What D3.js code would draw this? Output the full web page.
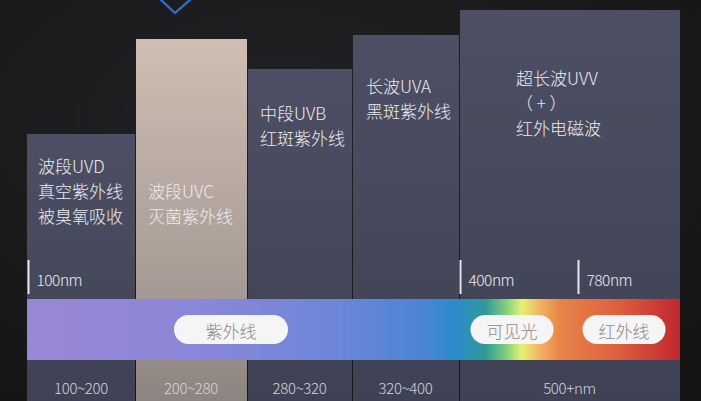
<!DOCTYPE html>
<html><head><meta charset="utf-8">
<script src="https://cdn.jsdelivr.net/npm/d3@7/dist/d3.min.js"></script>
<style>
html,body{margin:0;padding:0;background:#1b1b1d;overflow:hidden}
svg{display:block}
text{font-family:"Noto Sans CJK SC","Noto Sans",sans-serif;font-weight:300}
</style></head>
<body>
<script>
// ---- data ----
const categories = ["100~200", "200~280", "280~320", "320~400", "500+nm"];
const spans = [108, 112, 105, 107, 221];    // relative width of each band
const heights = [267, 362, 332, 366, 391];  // relative bar heights
const bandLabels = [
  ["波段UVD", "真空紫外线", "被臭氧吸收"],
  ["波段UVC", "灭菌紫外线"],
  ["中段UVB", "红斑紫外线"],
  ["长波UVA", "黑斑紫外线"],
  ["超长波UVV", "（ + ）", "红外电磁波"]
];
const markerLabels = ["100nm", "400nm", "780nm"];
const markerAt = [0, 432, 550];              // in band units
const pillLabels = ["紫外线", "可见光", "红外线"];
const pillAt = [204, 485, 597];              // centre, in band units

// ---- layout ----
const W = 701, H = 401;
const svg = d3.select("body").append("svg").attr("width", W).attr("height", H);
const defs = svg.append("defs");

const cum = [0]; spans.forEach((s, i) => cum.push(cum[i] + s));
const total = d3.sum(spans);
const x = d3.scaleLinear().domain([0, total]).range([27, 680]);
const y = d3.scaleLinear().domain([0, 391]).range([401, 10]);

// background
const bg = defs.append("radialGradient").attr("id", "bg").attr("cx", "40%").attr("cy", "30%").attr("r", "80%");
bg.append("stop").attr("offset", "0%").attr("stop-color", "#222224");
bg.append("stop").attr("offset", "100%").attr("stop-color", "#151516");
svg.append("rect").attr("width", W).attr("height", H).attr("fill", "url(#bg)");

// chevron
svg.append("path").attr("d", d3.line()([[160, -1], [175, 13], [191, -1]]))
  .attr("fill", "none").attr("stroke", "#2f70d8").attr("stroke-width", 2.2);

// bar gradients
const gC = defs.append("linearGradient").attr("id", "gC").attr("x1", 0).attr("y1", 0).attr("x2", 0).attr("y2", 1);
gC.append("stop").attr("offset", "0%").attr("stop-color", "#cfbeb3");
gC.append("stop").attr("offset", "70%").attr("stop-color", "#a69a94");
gC.append("stop").attr("offset", "100%").attr("stop-color", "#8c8480");
const gB = defs.append("linearGradient").attr("id", "gB").attr("x1", 0).attr("y1", 0).attr("x2", 0).attr("y2", 1);
gB.append("stop").attr("offset", "0%").attr("stop-color", "#4d5064");
gB.append("stop").attr("offset", "100%").attr("stop-color", "#3f4254");

const bars = categories.map((c, i) => ({
  c, i, x0: x(cum[i]), x1: x(cum[i + 1]), top: y(heights[i]), labels: bandLabels[i]
}));

svg.selectAll("rect.bar").data(bars).enter().append("rect")
  .attr("class", "bar")
  .attr("x", d => d.x0 + (d.i ? 1 : 0))
  .attr("y", d => d.top)
  .attr("width", d => d.x1 - d.x0 - (d.i ? 1 : 0))
  .attr("height", d => y(0) - d.top)
  .attr("fill", d => d.i === 1 ? "url(#gC)" : "url(#gB)");

// band labels
const labelDx = [11, 13, 13, 14, 57];
const labelTop = [165, 190, 112, 85, 77];
bars.forEach(d => {
  const t = svg.append("text").attr("fill", "#ecebf0").attr("font-size", 17)
    .attr("x", d.x0 + labelDx[d.i]).attr("y", labelTop[d.i]).attr("dominant-baseline", "central");
  d.labels.forEach((l, k) => {
    t.append("tspan").attr("x", d.x0 + labelDx[d.i]).attr("y", labelTop[d.i] + k * 25).text(l);
  });
});

// markers
markerLabels.forEach((m, i) => {
  const mx = x(markerAt[i]) + 1.5;
  svg.append("line").attr("x1", mx).attr("x2", mx).attr("y1", 260).attr("y2", 294)
    .attr("stroke", "#e6e6ea").attr("stroke-width", 2);
  svg.append("text").attr("x", mx + 8).attr("y", 279).attr("dominant-baseline", "central")
    .attr("fill", "#ecebf0").attr("font-size", 15.5).attr("letter-spacing", -0.5).text(m);
});

// spectrum band
const sg = defs.append("linearGradient").attr("id", "spec").attr("gradientUnits", "userSpaceOnUse")
  .attr("x1", x(0)).attr("x2", x(total)).attr("y1", 0).attr("y2", 0);
const stops = [[27, "#9b86d6"], [200, "#8a86d8"], [340, "#6c86d8"], [420, "#4d84d4"], [455, "#2c8bcc"],
  [485, "#2d9a98"], [505, "#7ccc80"], [522, "#e6f272"], [540, "#f2b262"], [560, "#e88448"],
  [620, "#dc5e3e"], [680, "#c0262e"]];
stops.forEach(s => sg.append("stop").attr("offset", (s[0] - x(0)) / (x(total) - x(0))).attr("stop-color", s[1]));
svg.append("rect").attr("x", x(0)).attr("y", 299).attr("width", x(total) - x(0)).attr("height", 61)
  .attr("fill", "url(#spec)");

// pills
pillLabels.forEach((p, i) => {
  const cx = x(pillAt[i]);
  const w = i === 0 ? 114 : 83;
  svg.append("rect").attr("x", cx - w / 2).attr("y", 315).attr("width", w).attr("height", 29)
    .attr("rx", 14.5).attr("fill", "#f6f5f6");
  svg.append("text").attr("x", cx).attr("y", 330).attr("text-anchor", "middle")
    .attr("dominant-baseline", "central").attr("fill", "#88888e").attr("font-size", 17).text(p);
});

// category labels
svg.selectAll("text.cat").data(bars).enter().append("text")
  .attr("class", "cat")
  .attr("x", d => (d.x0 + d.x1) / 2).attr("y", 387)
  .attr("text-anchor", "middle").attr("dominant-baseline", "central")
  .attr("fill", "#d4d4dc").attr("font-size", 15).attr("letter-spacing", -0.3)
  .text(d => d.c);
</script>
</body></html>
